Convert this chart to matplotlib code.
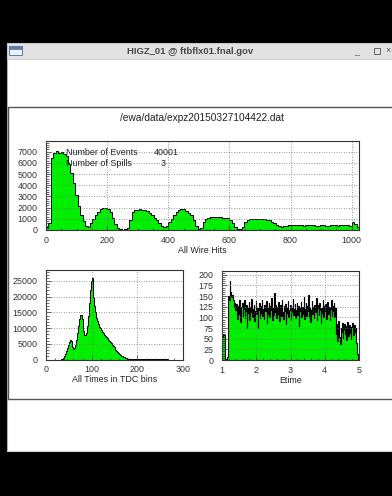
import numpy as np
import matplotlib
matplotlib.use('Agg')
import matplotlib.pyplot as plt
from matplotlib.patches import Rectangle
from matplotlib.ticker import MultipleLocator, AutoMinorLocator

# ---------------- data ----------------
wire_hits = [300, 600, 6400, 6900, 7050, 6900, 7000, 6800,
             6600, 5900, 5100, 4200, 3100, 2100, 1300, 800,
             350, 300, 600, 950, 1300, 1600, 1850, 1950,
             2000, 1850, 1650, 1100, 500, 150, 50, 40,
             60, 150, 900, 1600, 1750, 1800, 1850, 1800,
             1800, 1700, 1550, 1350, 1100, 850, 600, 350,
             250, 400, 700, 1000, 1300, 1600, 1800, 1900,
             1850, 1700, 1550, 1300, 900, 400, 80, 200,
             700, 1000, 1100, 1150, 1200, 1150, 1200, 1150,
             1100, 1100, 1050, 900, 600, 300, 100, 80,
             300, 700, 900, 950, 1000, 990, 950, 1000,
             980, 960, 900, 850, 750, 600, 450, 350,
             300, 350, 400, 420, 450, 430, 440, 460,
             430, 400, 420, 450, 470, 440, 400, 380,
             410, 430, 400, 380, 420, 440, 410, 390,
             420, 430, 410, 450, 400, 700, 500, 300]
wire_bin = 8

tdc_times = [0, 0, 0, 0, 0, 0, 0, 0,
             0, 0, 0, 0, 0, 0, 0, 0,
             20, 80, 200, 500, 1000, 1700, 2600, 3600,
             4700, 5600, 6100, 5800, 5000, 4000, 3400, 3700,
             4600, 6200, 8300, 10800, 13000, 14300, 14200, 12800,
             10800, 9000, 7900, 7700, 8500, 10800, 14000, 18000,
             22000, 25000, 25800, 23500, 20000, 17000, 15000, 13300,
             12200, 11300, 10500, 9900, 9400, 8900, 8400, 8000,
             7700, 7400, 7100, 6700, 6300, 5900, 5500, 5100,
             4700, 4300, 3900, 3400, 3000, 2600, 2300, 2000,
             1700, 1400, 1200, 1000, 800, 650, 520, 420,
             350, 300, 260, 230, 200, 180, 200, 160,
             220, 180, 150, 200, 170, 210, 160, 190,
             230, 170, 180, 200, 160, 190, 220, 170,
             200, 150, 180, 160, 200, 190, 170, 210,
             180, 160, 190, 200, 170, 180, 200, 160,
             190, 180, 170, 150, 200, 180]
tdc_bin = 2

etime = [55, 60, 62, 58, 30, 3, 0, 0, 8, 150,
         140, 186, 160, 150, 148, 152, 140, 125, 135, 118,
         118, 131, 97, 126, 108, 140, 112, 89, 124, 135,
         103, 120, 142, 99, 115, 128, 76, 121, 110, 137,
         95, 125, 113, 144, 101, 119, 130, 92, 116, 139,
         107, 123, 74, 118, 134, 98, 126, 111, 141, 104,
         120, 96, 129, 115, 138, 88, 122, 109, 133, 100,
         127, 117, 145, 94, 121, 106, 158, 112, 130, 99,
         124, 108, 136, 91, 119, 128, 103, 140, 113, 97,
         126, 116, 132, 85, 122, 110, 139, 101, 118, 129,
         94, 123, 112, 143, 105, 120, 131, 98, 117, 135,
         106, 126, 80, 121, 114, 137, 100, 125, 109, 148,
         96, 119, 133, 104, 127, 115, 152, 102, 122, 90,
         118, 138, 107, 124, 99, 130, 112, 145, 95, 121,
         128, 105, 134, 117, 88, 123, 110, 140, 102, 126,
         114, 131, 97, 120, 136, 108, 125, 93, 119, 142,
         104, 127, 116, 133, 100, 122,
         62, 84, 45, 70, 91, 55, 38, 76, 66, 88,
         52, 73, 85, 60, 79, 47, 68, 90, 57, 74,
         83, 63, 50, 78, 87, 59, 71, 82, 65, 76,
         40, 15, 5, 0]
etime_range = (1.0, 5.0)

file_title = "/ewa/data/expz20150327104422.dat"
window_title = "HIGZ_01 @ ftbflx01.fnal.gov"
stats_labels = ["Number of Events", "Number of Spills"]
stats_values = ["40001", "3"]

# ---------------- figure ----------------
W, H = 392, 496
plt.rcParams['font.family'] = ['Liberation Sans', 'DejaVu Sans']
fig = plt.figure(figsize=(W / 100, H / 100), dpi=100, facecolor='black')

def fx(x):
    return x / W

def fy(y):
    return 1 - y / H

def rect(x0, y0, x1, y1, **kw):
    kw.setdefault('zorder', -5)
    r = Rectangle((fx(x0), fy(y1)), (x1 - x0) / W, (y1 - y0) / H,
                  transform=fig.transFigure, **kw)
    fig.add_artist(r)

def text(x, y, s, **kw):
    fig.text(fx(x), fy(y), s, **kw)

# window chrome
rect(7, 42.5, 400, 451, facecolor='white', edgecolor='#b0b0b0', lw=0.8)
rect(7, 42.5, 400, 58.5, facecolor='#e2e2e2', edgecolor='#c8c8c8', lw=0.6)
rect(9, 46, 21.5, 55, facecolor='#eef3fa', edgecolor='#5a7aa8', lw=0.7, zorder=-4)
rect(9, 46, 21.5, 48.5, facecolor='#5a7aa8', edgecolor='#5a7aa8', lw=0.5, zorder=-3)
text(190, 51, window_title, ha='center', va='center', fontsize=6.8,
     fontweight='bold', color='#4a4a4a')
text(357, 51.5, "_", ha='center', va='center', fontsize=6.5, color='#555555')
rect(374, 48.5, 379.5, 54, facecolor='none', edgecolor='#666666', lw=0.7, zorder=-3)
text(388.5, 51, "×", ha='center', va='center', fontsize=6.5, color='#555555')
rect(7, 450.5, 400, 452, facecolor='#d0d0d0', edgecolor='none')

# canvas frame
rect(7.5, 106.5, 400, 399, facecolor='white', edgecolor='#555555', lw=1.0)
text(202, 118, file_title, ha='center', va='center', fontsize=7.3, color='#222222')

GREEN = '#00ee00'
FS = 6.4

def make_axes(x0, y0, x1, y1):
    ax = fig.add_axes([fx(x0), fy(y1), (x1 - x0) / W, (y1 - y0) / H])
    ax.set_facecolor('white')
    for s in ax.spines.values():
        s.set_color('#333333')
        s.set_linewidth(0.8)
    ax.tick_params(which='both', direction='in', top=False, right=False,
                   colors='#333333', labelsize=FS, width=0.5)
    ax.tick_params(which='major', length=3.6)
    ax.tick_params(which='minor', length=1.8)
    ax.tick_params(axis='y', pad=6)
    ax.tick_params(axis='x', pad=4)
    ax.grid(True, which='major', color='#777777', linestyle=(0, (1, 2)), lw=0.6)
    ax.set_axisbelow(False)
    return ax

def draw_hist(ax, vals, edges, lw=0.7):
    ax.stairs(vals, edges, fill=True, color=GREEN, lw=0, zorder=1)
    ax.stairs(vals, edges, color='black', lw=lw, zorder=1.5)

# top: wire hits
ax1 = make_axes(46, 141, 359, 230)
e1 = np.arange(len(wire_hits) + 1) * wire_bin
draw_hist(ax1, wire_hits, e1)
ax1.set_xlim(0, e1[-1])
ax1.set_ylim(0, 7950)
ax1.xaxis.set_major_locator(MultipleLocator(200))
ax1.xaxis.set_minor_locator(AutoMinorLocator(4))
ax1.yaxis.set_major_locator(MultipleLocator(1000))
ax1.yaxis.set_minor_locator(AutoMinorLocator(5))
ax1.set_xlabel("All Wire Hits", fontsize=FS, color='#222222', labelpad=1)
for i, (lab, val) in enumerate(zip(stats_labels, stats_values)):
    yy = 152.5 + i * 10.8
    text(66, yy, lab, ha='left', va='center', fontsize=FS, color='#222222')
    text(154 if i == 0 else 160.5, yy, val, ha='left', va='center', fontsize=FS, color='#222222')

# lower left: TDC times
ax2 = make_axes(46, 270, 183, 359.5)
e2 = np.arange(len(tdc_times) + 1) * tdc_bin
draw_hist(ax2, tdc_times, e2)
ax2.set_xlim(0, 300)
ax2.set_ylim(0, 28500)
ax2.xaxis.set_major_locator(MultipleLocator(100))
ax2.xaxis.set_minor_locator(AutoMinorLocator(5))
ax2.yaxis.set_major_locator(MultipleLocator(5000))
ax2.yaxis.set_minor_locator(AutoMinorLocator(5))
ax2.set_xlabel("All Times in TDC bins", fontsize=FS, color='#222222', labelpad=1)

# lower right: Etime
ax3 = make_axes(222, 271, 359, 360)
e3 = np.linspace(etime_range[0], etime_range[1], len(etime) + 1)
draw_hist(ax3, etime, e3, lw=0.8)
ax3.set_xlim(*etime_range)
ax3.set_ylim(0, 209)
ax3.xaxis.set_major_locator(MultipleLocator(1))
ax3.xaxis.set_minor_locator(AutoMinorLocator(5))
ax3.yaxis.set_major_locator(MultipleLocator(25))
ax3.yaxis.set_minor_locator(AutoMinorLocator(5))
ax3.set_xlabel("Etime", fontsize=FS, color='#222222', labelpad=1)

fig.savefig('out.png', dpi=100, facecolor='black')
